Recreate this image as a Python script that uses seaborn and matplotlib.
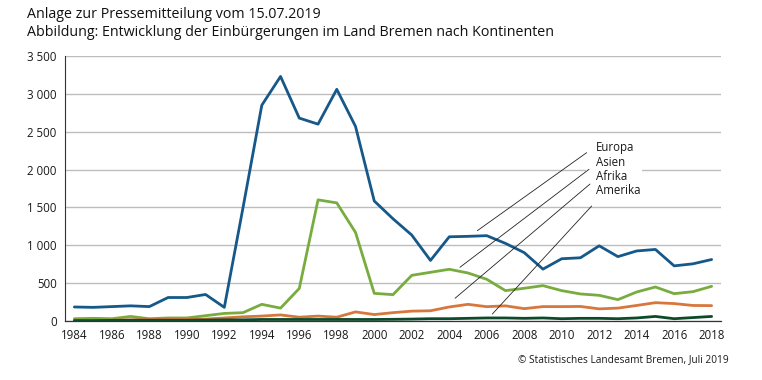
import matplotlib
matplotlib.use("Agg")
import matplotlib.pyplot as plt
import seaborn as sns
import pandas as pd
import numpy as np

# Einbürgerungen im Land Bremen nach Kontinenten
jahre = list(range(1984, 2019))
europa = [185, 180, 190, 200, 190, 310, 310, 350, 180, 1500, 2850, 3230, 2680, 2600, 3060, 2570,
          1585, 1350, 1135, 800, 1112, 1118, 1127, 1025, 903, 685, 822, 835, 993, 850, 925, 945,
          728, 755, 812]
asien = [30, 35, 30, 60, 30, 40, 40, 70, 100, 110, 220, 170, 430, 1600, 1560, 1170,
         365, 348, 603, 643, 683, 634, 551, 401, 432, 467, 401, 357, 339, 282, 383, 449,
         361, 387, 458]
afrika = [10, 5, 10, 15, 20, 20, 20, 25, 40, 55, 65, 80, 50, 65, 50, 120,
          85, 110, 130, 135, 185, 220, 189, 200, 163, 190, 190, 192, 160, 170, 205, 242,
          230, 205, 203]
amerika = [5, 5, 8, 10, 10, 10, 10, 12, 15, 15, 20, 20, 20, 20, 20, 20,
           20, 22, 25, 30, 30, 35, 40, 40, 35, 40, 30, 35, 35, 30, 40, 60,
           30, 45, 60]

kontinente = ["Europa", "Asien", "Afrika", "Amerika"]
farben = ["#15588a", "#79ac3e", "#d8773c", "#0d4a2a"]

df = pd.DataFrame({"Jahr": jahre, "Europa": europa, "Asien": asien,
                   "Afrika": afrika, "Amerika": amerika})
long = df.melt(id_vars="Jahr", var_name="Kontinent", value_name="Anzahl")

sns.set_style("white")
plt.rcParams["font.family"] = ["Open Sans", "DejaVu Sans"]

fig = plt.figure(figsize=(7.62, 3.80), dpi=100)
ax = fig.add_axes([0.0853, 0.1553, 0.8609, 0.6973])

ax.yaxis.grid(True, color="#bdbdbd", linewidth=1.0)
ax.set_axisbelow(True)

sns.lineplot(data=long, x="Jahr", y="Anzahl", hue="Kontinent", hue_order=kontinente,
             palette=farben, linewidth=2.0, legend=False, ax=ax)

ax.set_xlim(1983.5, 2018.5)
ax.set_ylim(0, 3500)
ax.set_yticks(np.arange(0, 3501, 500))
ax.set_yticklabels([f"{v:,}".replace(",", " ") for v in range(0, 3501, 500)])
ax.set_xticks(range(1984, 2019, 2))
ax.set_xticks(np.arange(1983.5, 2019, 1), minor=True)
ax.tick_params(axis="x", which="major", length=0, pad=6, labelsize=8.3, colors="#1a1a1a")
ax.tick_params(axis="x", which="minor", length=4, width=0.8, color="#333333")
ax.tick_params(axis="y", length=3, color="#bdbdbd", labelsize=8.3, labelcolor="#1a1a1a", pad=3)
ax.set_xlabel("")
ax.set_ylabel("")

for s in ["top", "right"]:
    ax.spines[s].set_visible(False)
ax.spines["left"].set_color("#333333")
ax.spines["left"].set_linewidth(0.8)
ax.spines["bottom"].set_color("#333333")
ax.spines["bottom"].set_linewidth(0.9)

# Beschriftung mit Hinweislinien
ax.add_patch(plt.Rectangle((2011.3, 1550), 3.0, 880, facecolor="white", edgecolor="none", zorder=1.5))
label_y = [2298, 2100, 1902, 1717]
starts = [(2011.33, 2223), (2011.46, 2004), (2011.51, 1809), (2011.60, 1519)]
ends = [(2005.50, 1193), (2004.57, 709), (2004.31, 300), (2006.30, 92)]
for name, ly, (x0, y0), (x1, y1) in zip(kontinente, label_y, starts, ends):
    ax.text(2011.83, ly, name, fontsize=8.3, va="center", ha="left", color="#1a1a1a", zorder=4)
    ax.plot([x0, x1], [y0, y1], color="#222222", linewidth=0.6, zorder=4)

fig.text(27 / 762, 1 - 15 / 380, "Anlage zur Pressemitteilung vom 15.07.2019",
         fontsize=10.3, va="center", ha="left", color="#111111")
fig.text(27 / 762, 1 - 33 / 380, "Abbildung: Entwicklung der Einbürgerungen im Land Bremen nach Kontinenten",
         fontsize=10.3, va="center", ha="left", color="#111111")
fig.text(729 / 762, 1 - 360 / 380, "© Statistisches Landesamt Bremen, Juli 2019",
         fontsize=7.3, va="center", ha="right", color="#1a1a1a")

fig.savefig("out.png", dpi=100, facecolor="white")
